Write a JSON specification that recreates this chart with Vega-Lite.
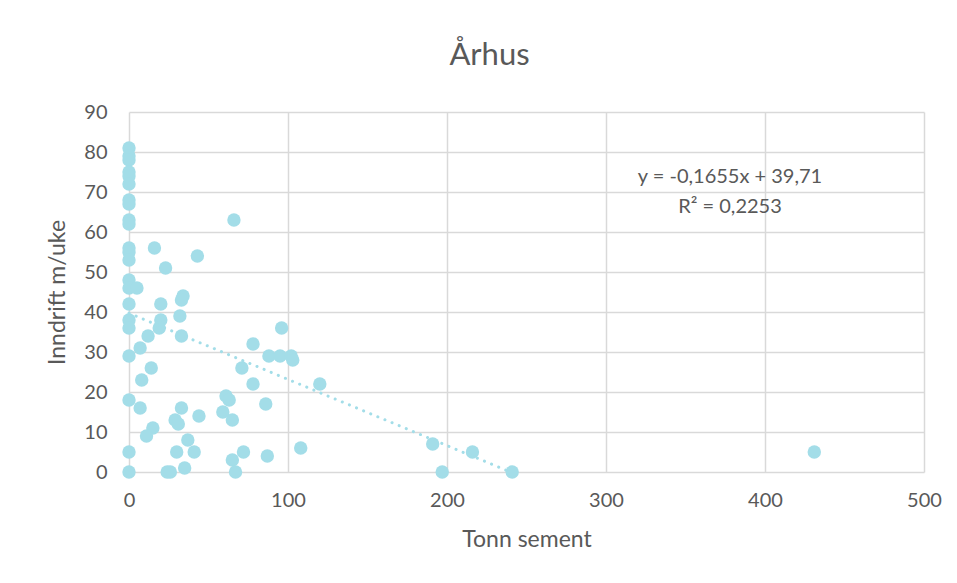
{
  "$schema": "https://vega.github.io/schema/vega-lite/v6.json",
  "autosize": {"type": "none"},
  "width": 795,
  "height": 360,
  "padding": {"left": 129, "top": 112, "right": 33, "bottom": 111},
  "background": "white",
  "title": {
    "text": "Århus",
    "font": "Lato",
    "fontSize": 31,
    "fontWeight": "normal",
    "color": "#595959",
    "anchor": "middle",
    "dx": -37,
    "offset": 30
  },
  "config": {
    "view": {"stroke": null},
    "axis": {
      "labelFont": "Lato",
      "titleFont": "Lato",
      "labelColor": "#595959",
      "titleColor": "#595959",
      "labelFontSize": 20,
      "titleFontSize": 23,
      "titleFontWeight": "normal",
      "gridColor": "#D9D9D9",
      "gridWidth": 1.5,
      "domain": false,
      "ticks": false,
      "labelOverlap": false,
      "labelFlush": false
    }
  },
  "datasets": {
    "points": [
      {"x": 0, "y": 81}, {"x": 0, "y": 79}, {"x": 0, "y": 78}, {"x": 0, "y": 75}, {"x": 0, "y": 74},
      {"x": 0, "y": 72}, {"x": 0, "y": 68}, {"x": 0, "y": 67}, {"x": 0, "y": 63}, {"x": 0, "y": 62},
      {"x": 0, "y": 56}, {"x": 0, "y": 55}, {"x": 0, "y": 53}, {"x": 0, "y": 48}, {"x": 0, "y": 46},
      {"x": 0, "y": 42}, {"x": 0, "y": 38}, {"x": 0, "y": 36}, {"x": 0, "y": 29}, {"x": 0, "y": 18},
      {"x": 0, "y": 5}, {"x": 0, "y": 0},
      {"x": 16, "y": 56}, {"x": 66, "y": 63}, {"x": 43, "y": 54}, {"x": 23, "y": 51}, {"x": 5, "y": 46},
      {"x": 20, "y": 42}, {"x": 34, "y": 44}, {"x": 33, "y": 43}, {"x": 32, "y": 39}, {"x": 20, "y": 38},
      {"x": 96, "y": 36}, {"x": 19, "y": 36}, {"x": 12, "y": 34}, {"x": 33, "y": 34}, {"x": 7, "y": 31},
      {"x": 14, "y": 26}, {"x": 8, "y": 23}, {"x": 7, "y": 16}, {"x": 15, "y": 11}, {"x": 11, "y": 9},
      {"x": 24, "y": 0}, {"x": 26, "y": 0}, {"x": 35, "y": 1}, {"x": 30, "y": 5}, {"x": 41, "y": 5},
      {"x": 37, "y": 8}, {"x": 33, "y": 16}, {"x": 29, "y": 13}, {"x": 31, "y": 12}, {"x": 44, "y": 14},
      {"x": 61, "y": 19}, {"x": 63, "y": 18}, {"x": 59, "y": 15}, {"x": 65, "y": 13}, {"x": 65, "y": 3},
      {"x": 72, "y": 5}, {"x": 67, "y": 0}, {"x": 87, "y": 4}, {"x": 108, "y": 6}, {"x": 86, "y": 17},
      {"x": 78, "y": 22}, {"x": 71, "y": 26}, {"x": 78, "y": 32}, {"x": 88, "y": 29}, {"x": 95, "y": 29},
      {"x": 102, "y": 29}, {"x": 103, "y": 28}, {"x": 120, "y": 22}, {"x": 191, "y": 7}, {"x": 197, "y": 0},
      {"x": 216, "y": 5}, {"x": 241, "y": 0}, {"x": 431, "y": 5}
    ],
    "trend": [
      {"x": 0, "y": 39.71},
      {"x": 239.9, "y": 0}
    ],
    "labels": [
      {"x": 378, "y": 72.3, "text": "y = -0,1655x + 39,71"},
      {"x": 378, "y": 64.8, "text": "R² = 0,2253"}
    ]
  },
  "encoding": {
    "x": {
      "field": "x", "type": "quantitative",
      "scale": {"domain": [0, 500], "nice": false},
      "axis": {"values": [0, 100, 200, 300, 400, 500], "title": "Tonn sement", "labelPadding": 18, "titlePadding": 18}
    },
    "y": {
      "field": "y", "type": "quantitative",
      "scale": {"domain": [0, 90], "nice": false},
      "axis": {"values": [0, 10, 20, 30, 40, 50, 60, 70, 80, 90], "title": "Inndrift m/uke", "labelPadding": 22, "titlePadding": 14}
    }
  },
  "layer": [
    {
      "data": {"name": "points"},
      "mark": {"type": "circle", "size": 180, "color": "#A3DDE8", "opacity": 1}
    },
    {
      "data": {"name": "trend"},
      "mark": {"type": "line", "color": "#A3DDE8", "strokeWidth": 3, "strokeDash": [0.1, 7.6], "strokeCap": "round"}
    },
    {
      "data": {"name": "labels"},
      "mark": {"type": "text", "font": "Lato", "fontSize": 20, "color": "#595959", "align": "center", "baseline": "alphabetic"},
      "encoding": {
        "text": {"field": "text"}
      }
    }
  ]
}
